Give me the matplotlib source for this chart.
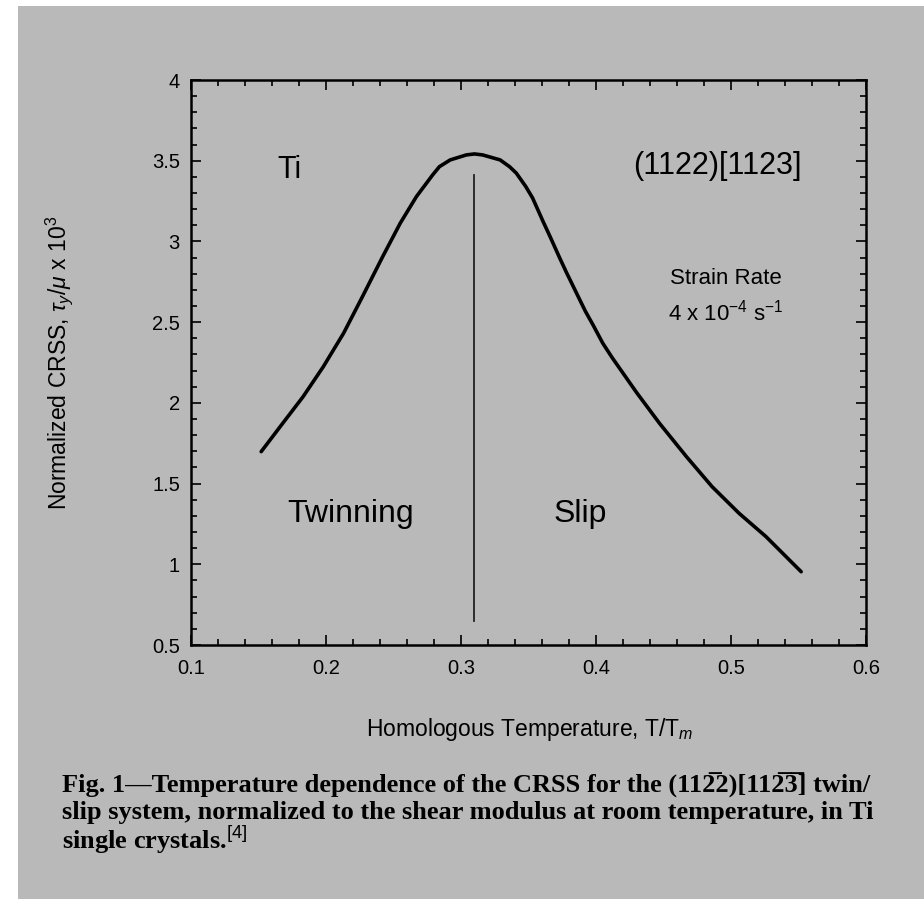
import numpy as np
import matplotlib
matplotlib.use("Agg")
import matplotlib.pyplot as plt
from matplotlib.ticker import MultipleLocator

# Đường CRSS
T = [0.152, 0.168, 0.183, 0.198, 0.213, 0.227, 0.242, 0.255, 0.267, 0.279,
     0.284, 0.292, 0.304, 0.310, 0.316, 0.329, 0.336, 0.341, 0.348, 0.353,
     0.361, 0.366, 0.373, 0.378, 0.385, 0.392, 0.398, 0.405, 0.412, 0.430,
     0.447, 0.467, 0.486, 0.506, 0.526, 0.552]
crss = [1.698, 1.874, 2.038, 2.224, 2.431, 2.658, 2.906, 3.113, 3.278, 3.412,
        3.463, 3.505, 3.536, 3.542, 3.536, 3.505, 3.463, 3.423, 3.34, 3.27,
        3.12, 3.03, 2.90, 2.81, 2.69, 2.57, 2.48, 2.37, 2.28, 2.065,
        1.874, 1.667, 1.481, 1.316, 1.171, 0.954]

# Đường phân cách twinning / slip
T_split = 0.3094
split_range = [0.65, 3.41]

xticks = [0.1, 0.2, 0.3, 0.4, 0.5, 0.6]
yticks = [0.5, 1, 1.5, 2, 2.5, 3, 3.5, 4]

bg = "#b9b9b9"
plt.rcParams["font.family"] = ["Liberation Sans", "DejaVu Sans"]
plt.rcParams["mathtext.fontset"] = "custom"
plt.rcParams["mathtext.rm"] = "Liberation Sans"
plt.rcParams["mathtext.it"] = "Liberation Sans:italic"

fig = plt.figure(figsize=(9.24, 8.99), dpi=100, facecolor="white")
# nền xám của bản scan
fig.patches.append(plt.Rectangle((18 / 924, 0), 1, 1 - 6 / 899, transform=fig.transFigure,
                                 facecolor=bg, edgecolor="none", zorder=-10))

ax = fig.add_axes([0.2067, 0.2825, 0.7305, 0.6285])
ax.set_facecolor(bg)
ax.plot(T, crss, color="black", lw=2.6, solid_capstyle="round", solid_joinstyle="round")
ax.plot([T_split, T_split], split_range, color="#222222", lw=1.3)

ax.set_xlim(0.1, 0.6)
ax.set_ylim(0.5, 4)
ax.set_xticks(xticks)
ax.set_yticks(yticks)
ax.set_xticklabels([f"{v:g}" for v in xticks])
ax.set_yticklabels([f"{v:g}" for v in yticks])
ax.xaxis.set_minor_locator(MultipleLocator(0.02))
ax.yaxis.set_minor_locator(MultipleLocator(0.1))
ax.tick_params(which="both", direction="in", top=True, right=True, width=1.2)
ax.tick_params(which="major", length=7, labelsize=14.5)
ax.tick_params(axis="x", which="major", pad=10)
ax.tick_params(axis="y", which="major", pad=8)
ax.tick_params(which="minor", length=4)
for s in ax.spines.values():
    s.set_linewidth(1.8)

ax.set_xlabel("Homologous Temperature, T/T$_m$", fontsize=16.5)
ax.xaxis.set_label_coords(0.502, -0.125)
ax.set_ylabel(r"Normalized CRSS, $\tau_y$/$\mu$ x 10$^3$", fontsize=16.5)
ax.yaxis.set_label_coords(-0.172, 0.5)

ax.text(0.173, 3.44, "Ti", fontsize=22, ha="center", va="center")
ax.text(0.490, 3.47, "(1122)[1123]", fontsize=22, ha="center", va="center")
ax.text(0.496, 2.77, "Strain Rate", fontsize=16, ha="center", va="center")
ax.text(0.496, 2.56, "4 x 10$^{-4}$ s$^{-1}$", fontsize=16, ha="center", va="center")
ax.text(0.218, 1.31, "Twinning", fontsize=23, ha="center", va="center")
ax.text(0.388, 1.31, "Slip", fontsize=23, ha="center", va="center")

cap = dict(fontsize=19, family=["Liberation Serif", "DejaVu Serif"], weight="bold",
           ha="left", va="center")
fig.text(62 / 924, 1 - 785 / 899,
         "Fig. 1\u2014Temperature dependence of the CRSS for the (112\u03052)[112\u03053\u0305] twin/",
         **cap)
fig.text(62 / 924, 1 - 813 / 899,
         "slip system, normalized to the shear modulus at room temperature, in Ti", **cap)
fig.text(62 / 924, 1 - 840 / 899, "single crystals.$^{[4]}$", **cap)

fig.savefig("out.png", dpi=100, facecolor=fig.get_facecolor())
